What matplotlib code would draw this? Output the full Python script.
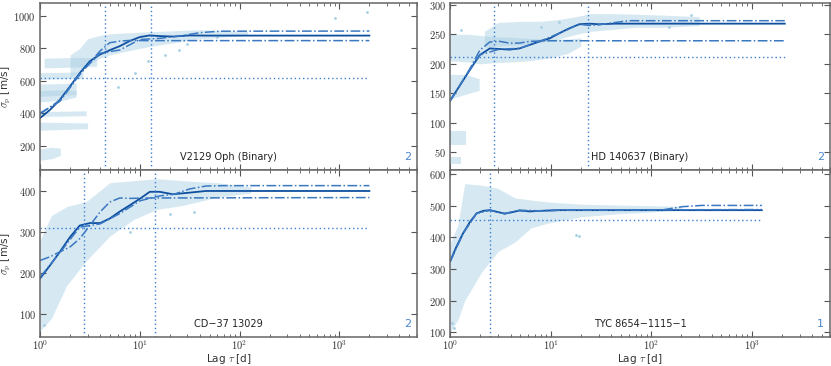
import numpy as np
import matplotlib
matplotlib.use("Agg")
import matplotlib.pyplot as plt
from matplotlib.ticker import FuncFormatter, MultipleLocator, LogLocator, NullFormatter

plt.rcParams['mathtext.fontset'] = 'cm'
plt.rcParams['font.family'] = ['DejaVu Sans']

# ---- data ----
names = ["V2129 Oph (Binary)", "HD 140637 (Binary)", "CD\u221237 13029", "TYC 8654\u22121115\u22121"]
ncomp = ["2", "2", "2", "1"]

# solid curve (sigma_p vs lag) and the two dash-dot curves
p1_tau = [1.0, 1.26, 1.58, 2.0, 2.51, 3.16, 3.98, 5.0, 6.3, 7.9, 10, 12.6, 15.8, 21.5, 31.6, 46, 100, 2000]
p1_sol = [370, 421, 483, 566, 649, 721, 762, 789, 814, 845, 870, 880, 876, 873, 880, 879, 879, 879]
p1_lo_tau = [1.0, 1.58, 2.51, 3.98, 5.0, 6.3, 7.9, 12, 2000]
p1_lo = [401, 473, 639, 783, 835, 845, 849, 848, 848]
p1_hi_tau = [1.0, 1.58, 2.51, 3.98, 6.3, 10, 15.8, 25, 40, 63, 2000]
p1_hi = [395, 480, 645, 770, 790, 855, 862, 876, 897, 906, 907]

p2_tau = [1.0, 1.26, 1.58, 1.98, 2.49, 3.13, 3.9, 4.9, 6.2, 7.8, 9.8, 12.3, 15.3, 19.3, 24.2, 30, 44, 2130]
p2_sol = [137, 164, 190, 215, 226, 225, 224, 226, 232, 238, 243, 252, 260, 267, 268, 267, 268, 268]
p2_lo_tau = [1.0, 1.26, 1.58, 1.98, 2.49, 3.13, 3.9, 4.9, 6.2, 10, 2130]
p2_lo = [137, 164, 192, 223, 237, 238, 235, 235, 238, 239, 239]
p2_hi_tau = [1.0, 1.58, 1.98, 3.13, 4.9, 7.8, 12.3, 19.3, 24.2, 30, 44, 60, 2130]
p2_hi = [137, 190, 215, 225, 226, 238, 252, 267, 265, 266, 270, 273, 273]

p3_tau = [1.0, 1.26, 1.58, 2.0, 2.5, 3.16, 4.0, 5.0, 6.3, 7.9, 10, 12.6, 15.8, 21.5, 31.6, 46, 2000]
p3_sol = [187, 219, 252, 288, 316, 322, 322, 333, 350, 365, 381, 398, 398, 392, 396, 400, 400]
p3_lo_tau = [1.0, 1.26, 1.58, 2.0, 2.5, 3.16, 4.0, 5.0, 6.3, 7.9, 12.6, 2000]
p3_lo = [231, 240, 252, 264, 284, 316, 349, 373, 383, 382, 383, 384]
p3_hi_tau = [1.0, 1.58, 2.5, 4.0, 6.3, 10, 15.8, 22, 31.6, 46, 70, 2000]
p3_hi = [190, 250, 312, 320, 345, 376, 388, 392, 405, 412, 413, 413]

p4_tau = [1.0, 1.16, 1.35, 1.58, 1.84, 2.14, 2.49, 2.9, 3.5, 4.2, 4.9, 6.2, 8.0, 12.3, 100, 1260]
p4_sol = [323, 371, 413, 449, 476, 484, 486, 481, 475, 480, 485, 482, 484, 486, 486, 486]
p4_lo_tau = [1.0, 1.35, 1.84, 2.49, 3.5, 4.9, 8.0, 12.3, 100, 1260]
p4_lo = [323, 413, 476, 486, 475, 485, 484, 486, 487, 488]
p4_hi_tau = [1.0, 1.35, 1.84, 2.49, 3.5, 4.9, 8.0, 12.3, 130, 204, 320, 1260]
p4_hi = [323, 413, 476, 486, 475, 485, 484, 486, 487, 497, 501, 501]

# reference levels: dotted horizontal level and dotted lag markers
h_level = [615, 211, 310, 455]
v_lags = [[4.47, 13.1], [2.73, 23.8], [2.77, 14.3], [2.5]]

# point clouds, read as bands: (lag, lower, upper)
clouds = [
    [([1.0, 1.3, 1.6], [110, 120, 140], [180, 190, 185]),
     ([1.0, 3.0], [295, 305], [345, 340]),
     ([1.0, 2.9], [380, 385], [410, 415]),
     ([1.0, 1.7, 2.3], [470, 480, 500], [540, 545, 540]),
     ([1.0, 2.3], [505, 515], [580, 585]),
     ([1.0, 2.7], [610, 615], [650, 655]),
     ([1.1, 2.5, 3.7], [680, 685, 690], [740, 745, 740]),
     ([2.0, 2.5, 3.0, 4.0, 5.0, 7.0, 10, 15, 25, 40, 70, 120],
      [620, 660, 700, 740, 760, 780, 800, 820, 840, 860, 870, 880],
      [760, 800, 860, 880, 890, 895, 900, 905, 910, 915, 910, 905])],
    [([1.0, 1.3], [30, 30], [42, 42]),
     ([1.0, 1.45], [62, 62], [86, 86]),
     ([1.0, 1.4, 1.95], [140, 148, 155], [182, 182, 175]),
     ([1.0, 1.5, 2.0, 2.8, 4.0, 6.0, 10, 15, 20],
      [205, 203, 200, 202, 203, 205, 210, 218, 230],
      [250, 250, 248, 246, 245, 243, 242, 242, 244]),
     ([2.2, 3, 5, 8, 12, 18, 25, 40, 70, 150, 300],
      [228, 230, 232, 236, 242, 250, 255, 258, 262, 262, 265],
      [255, 270, 272, 272, 275, 280, 285, 285, 284, 282, 280])],
    [([1.0, 1.3, 1.85, 2.9, 5, 8.6, 14.7, 27, 60, 130],
      [60, 90, 170, 230, 290, 330, 355, 365, 385, 395],
      [280, 340, 362, 374, 420, 425, 430, 425, 420, 410])],
    [([1.0, 1.2, 1.4, 2.06, 3.0, 4.4, 6.4, 9.4, 20, 50, 100, 200],
      [100, 140, 200, 290, 355, 385, 430, 445, 465, 475, 480, 488],
      [380, 440, 570, 565, 555, 525, 518, 512, 505, 502, 500, 498])],
]
outliers = [
    ([9, 12, 18, 25, 6, 900, 1900, 30, 60], [650, 720, 760, 790, 560, 990, 1025, 830, 870]),
    ([1.3, 8, 12, 150, 250], [258, 262, 270, 262, 283]),
    ([1.1, 20, 35, 8], [75, 345, 350, 300]),
    ([18, 19, 1.05, 1.1], [408, 405, 130, 115]),
]

curves = [(p1_tau, p1_sol, p1_lo_tau, p1_lo, p1_hi_tau, p1_hi),
          (p2_tau, p2_sol, p2_lo_tau, p2_lo, p2_hi_tau, p2_hi),
          (p3_tau, p3_sol, p3_lo_tau, p3_lo, p3_hi_tau, p3_hi),
          (p4_tau, p4_sol, p4_lo_tau, p4_lo, p4_hi_tau, p4_hi)]

ylims = [(50, 1080), (20, 303), (45, 451), (85, 613)]
ysteps = [200, 50, 100, 100]

dark = '#0f4f9f'
mid = '#3a78c2'
dot = '#3b7fd2'
pts = '#a6cee3'

W, H = 831, 366
fig = plt.figure(figsize=(W / 100, H / 100), dpi=100)
boxes = [(40, 3, 417, 170), (450, 3, 830, 170), (40, 170, 417, 337), (450, 170, 830, 337)]

for i, (x0, y0, x1, y1) in enumerate(boxes):
    ax = fig.add_axes([x0 / W, 1 - y1 / H, (x1 - x0) / W, (y1 - y0) / H])
    ax.set_xscale('log')
    ax.set_xlim(1, 6000)
    ax.set_ylim(*ylims[i])

    for tau, lo, hi in clouds[i]:
        ax.fill_between(tau, lo, hi, color=pts, alpha=0.45, lw=0)
    ax.scatter(outliers[i][0], outliers[i][1], s=4, color=pts, lw=0)

    t, s, tl, sl, th, sh = curves[i]
    ax.plot(t, s, color=dark, lw=1.3)
    ax.plot(tl, sl, color=mid, lw=1.1, ls='-.')
    ax.plot(th, sh, color=mid, lw=1.1, ls='-.')

    ax.hlines(h_level[i], 1, t[-1], color=dot, lw=1, ls=(0, (1, 2)))
    for v in v_lags[i]:
        ax.axvline(v, color=dot, lw=1, ls=(0, (1, 2)))

    ax.text(0.5, 0.045, names[i], transform=ax.transAxes, ha='center', va='bottom',
            fontsize=7, color='#222222')
    ax.text(0.985, 0.045, ncomp[i], transform=ax.transAxes, ha='right', va='bottom',
            fontsize=8, color='#4a86cc')

    ax.yaxis.set_major_locator(MultipleLocator(ysteps[i]))
    ax.yaxis.set_major_formatter(FuncFormatter(lambda v, p: r'$%d$' % v))
    ax.xaxis.set_major_locator(LogLocator(base=10))
    ax.xaxis.set_minor_locator(LogLocator(base=10, subs=np.arange(2, 10)))
    ax.xaxis.set_minor_formatter(NullFormatter())
    ax.tick_params(which='both', direction='in', top=True, right=True,
                   color='#555555', labelsize=7.5, labelcolor='#333333')
    ax.tick_params(axis='x', pad=1)
    ax.tick_params(axis='y', pad=3)
    ax.tick_params(which='major', length=4, width=0.8)
    ax.tick_params(which='minor', length=2, width=0.6)
    for sp in ax.spines.values():
        sp.set_color('#666666')
        sp.set_linewidth(1.1)

    if i >= 2:
        ax.xaxis.set_major_formatter(FuncFormatter(lambda v, p: r'$10^{%d}$' % round(np.log10(v))))
        ax.set_xlabel(r'Lag $\tau$ [d]', fontsize=7.5, color='#333333', labelpad=0)
    else:
        ax.xaxis.set_major_formatter(NullFormatter())
    if i % 2 == 0:
        ax.set_ylabel(r'$\sigma_{\rm p}$ [m/s]', fontsize=7.5, color='#333333')
        ax.yaxis.set_label_coords(-0.072, 0.5)

fig.savefig('out.png', dpi=100)
